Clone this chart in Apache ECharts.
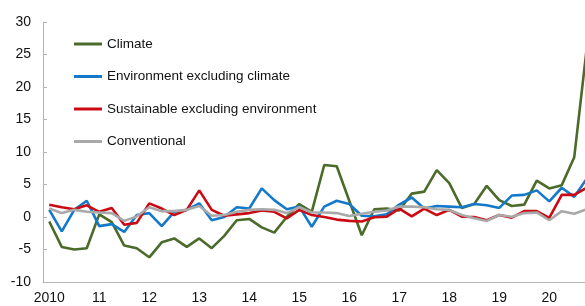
<!DOCTYPE html>
<html>
<head>
<meta charset="utf-8">
<script src="https://cdn.jsdelivr.net/npm/echarts@6/dist/echarts.min.js"></script>
<style>
  html, body { margin: 0; padding: 0; background: #fff; }
  #chart { width: 585px; height: 306px; }
</style>
</head>
<body>
<div id="chart"></div>
<script>
// year tick labels, one per 4 quarters
const yearLabels = ['2010', '11', '12', '13', '14', '15', '16', '17', '18', '19', '20'];
const quarters = [];
yearLabels.forEach((y, i) => {
  for (let q = 1; q <= 4; q++) quarters.push((2010 + i) + 'Q' + q);
});

const climate = [
  -0.7, -4.6, -5.0, -4.8, 0.4, -0.8, -4.4, -4.8,
  -6.2, -3.9, -3.3, -4.6, -3.3, -4.8, -2.9, -0.5,
  -0.3, -1.6, -2.4, 0.0, 2.0, 0.8, 8.0, 7.8,
  2.5, -2.8, 1.2, 1.3, 1.0, 3.6, 3.9, 7.2,
  5.2, 1.4, 2.0, 4.8, 2.6, 1.7, 1.9, 5.6,
  4.4, 4.9, 9.2, 26.0
];
const envExClimate = [
  1.1, -2.2, 1.1, 2.5, -1.4, -1.1, -2.3, 0.3,
  0.6, -1.4, 0.8, 1.1, 2.1, -0.5, 0.0, 1.5,
  1.3, 4.4, 2.6, 1.2, 1.6, -1.5, 1.6, 2.5,
  2.0, 0.2, 0.1, 0.4, 1.9, 3.0, 1.3, 1.7,
  1.6, 1.5, 2.0, 1.8, 1.4, 3.3, 3.4, 4.1,
  2.4, 4.5, 3.1, 5.9
];
const sustExEnv = [
  1.9, 1.5, 1.2, 1.8, 0.8, 1.4, -1.2, -0.9,
  2.1, 1.3, 0.3, 1.1, 4.1, 1.1, 0.2, 0.4,
  0.6, 1.0, 0.8, -0.2, 1.1, 0.3, 0.0, -0.4,
  -0.6, -0.7, -0.05, 0.05, 1.3, 0.1, 1.3, 0.3,
  1.1, 0.05, 0.0, -0.5, 0.3, -0.1, 0.9, 0.9,
  -0.15, 3.4, 3.4, 4.5
];
const conventional = [
  1.3, 0.6, 1.1, 0.8, 0.7, 0.6, -0.6, 0.1,
  1.5, 0.9, 0.9, 1.1, 1.7, 0.2, 0.3, 0.8,
  1.1, 1.2, 1.1, 0.6, 1.5, 0.7, 0.7, 0.6,
  0.15, 0.5, 0.8, 1.0, 1.6, 1.6, 1.5, 1.2,
  1.1, 0.3, -0.2, -0.6, 0.3, 0.05, 0.6, 0.7,
  -0.5, 0.9, 0.5, 1.2
];

const axisColor = '#b4b4b4';
const font = 'Liberation Sans, Arial, sans-serif';

function lineSeries(name, data, color) {
  return {
    name,
    type: 'line',
    data,
    symbol: 'none',
    smooth: false,
    lineStyle: { color, width: 2.6 },
    itemStyle: { color }
  };
}

const myChart = echarts.init(document.getElementById('chart'));
myChart.setOption({
  animation: false,
  textStyle: { fontFamily: font },
  // plot runs a little past the right edge, as in the source picture
  grid: { left: 43, width: 550, top: 22, bottom: 24, containLabel: false, outerBoundsMode: 'none' },
  legend: {
    orient: 'vertical',
    left: 74,
    top: 37,
    padding: 0,
    itemWidth: 28,
    itemHeight: 3,
    itemGap: 18.5,
    icon: 'rect',
    textStyle: { color: '#111', fontSize: 13.5, fontFamily: font, lineHeight: 14 },
    data: ['Climate', 'Environment excluding climate', 'Sustainable excluding environment', 'Conventional']
  },
  xAxis: {
    type: 'category',
    data: quarters,
    boundaryGap: true,
    axisLine: { onZero: false, lineStyle: { color: axisColor, width: 1 } },
    axisTick: { inside: true, length: 4, interval: 3, lineStyle: { color: axisColor } },
    axisLabel: {
      interval: 3,
      color: '#111',
      fontSize: 14,
      fontFamily: font,
      margin: 9,
      formatter: (v, idx) => yearLabels[Math.floor(idx / 4)]
    }
  },
  yAxis: {
    type: 'value',
    min: -10,
    max: 30,
    interval: 5,
    splitLine: { show: false },
    axisLine: { show: true, lineStyle: { color: axisColor, width: 1 } },
    axisTick: { show: true, inside: true, length: 4, lineStyle: { color: axisColor } },
    axisLabel: { color: '#111', fontSize: 14, fontFamily: font, margin: 12 }
  },
  series: [
    lineSeries('Climate', climate, '#4a6b2a'),
    lineSeries('Environment excluding climate', envExClimate, '#1479c9'),
    lineSeries('Sustainable excluding environment', sustExEnv, '#cc0a14'),
    lineSeries('Conventional', conventional, '#a9a9a9')
  ]
});
</script>
</body>
</html>
